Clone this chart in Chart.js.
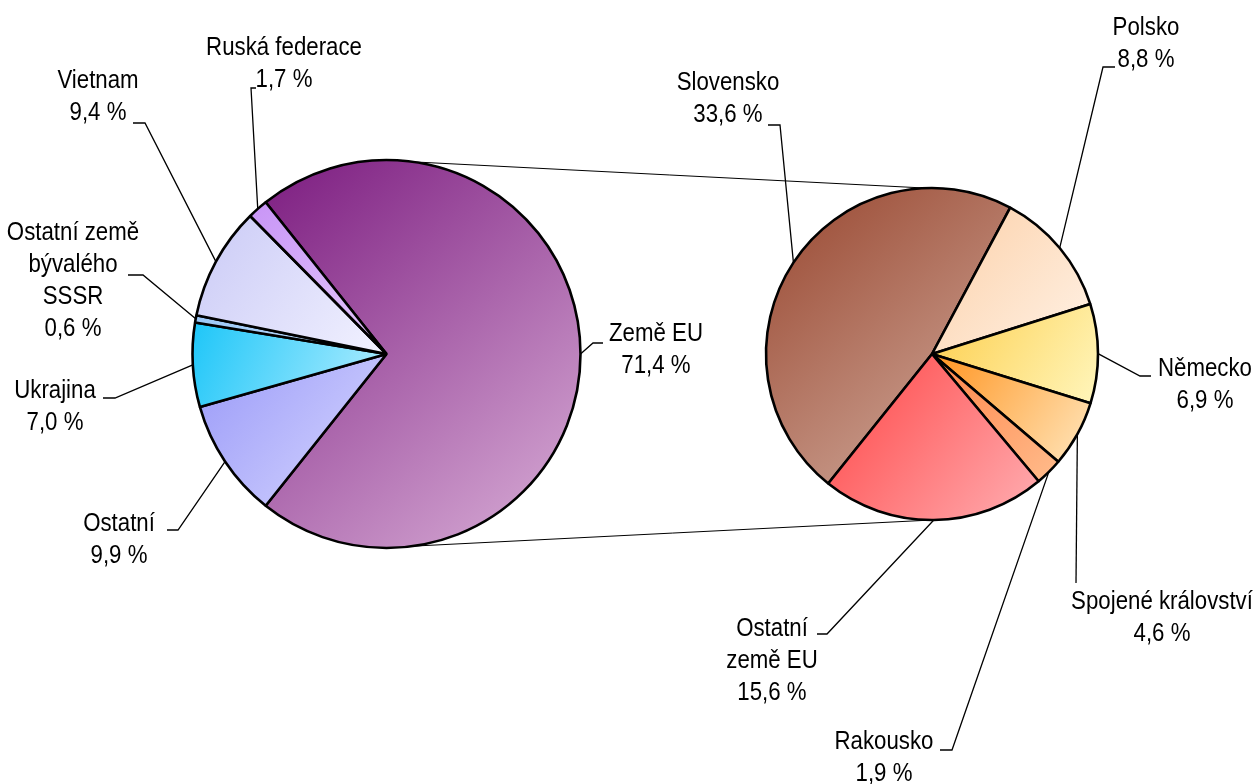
<!DOCTYPE html>
<html>
<head>
<meta charset="utf-8">
<script src="https://cdn.jsdelivr.net/npm/chart.js@4.4.0/dist/chart.umd.min.js"></script>
<style>
html, body { margin: 0; padding: 0; background: #fff; }
#wrap { position: relative; width: 1258px; height: 784px; }
#wrap canvas { position: absolute; left: 0; top: 0; }
</style>
</head>
<body>
<div id="wrap">
	<canvas id="mainPie" width="1258" height="784"></canvas>
	<canvas id="subPie" width="1258" height="784"></canvas>
</div>
<script>
// main pie, clockwise from the split slice
const mainLabels = ["Země EU", "Ostatní", "Ukrajina", "Ostatní země\nbývalého\nSSSR", "Vietnam", "Ruská federace"];
const mainValues = [71.4, 9.9, 7.0, 0.6, 9.4, 1.7];

// secondary pie (breakdown of Země EU), clockwise
const subLabels = ["Slovensko", "Polsko", "Německo", "Spojené království", "Rakousko", "Ostatní\nzemě EU"];
const subValues = [33.6, 8.8, 6.9, 4.6, 1.9, 15.6];

// gradient colours [dark, light]
const mainColors = [
	["#7c1c80", "#dab0d8"],
	["#9a9af8", "#d8d8ff"],
	["#1ec6f8", "#b4eeff"],
	["#9cc8f6", "#c4e0fc"],
	["#cacaf6", "#f2f2ff"],
	["#c894f6", "#e4cafc"],
];
const subColors = [
	["#98462f", "#d4b0a2"],
	["#fcd0a8", "#fff2e6"],
	["#fdce4c", "#fff6bc"],
	["#ff9420", "#ffe6bc"],
	["#ff8448", "#ffbc8c"],
	["#ff4444", "#ffaeb2"],
];

// label placement: text centre x, first line y, leader elbow and end
const mainLabelPos = [
	{ x: 656, y: 334, elbow: [593, 343], end: [603, 343] },
	{ x: 119, y: 524, elbow: [178, 530], end: [167, 530] },
	{ x: 55, y: 391, elbow: [115, 398], end: [103, 398] },
	{ x: 73, y: 233, elbow: [143, 275], end: [128, 275] },
	{ x: 98, y: 81, elbow: [145, 123], end: [133, 123] },
	{ x: 284, y: 48, elbow: [251, 88], end: [256, 88] },
];
const subLabelPos = [
	{ x: 728, y: 83, elbow: [780, 125], end: [768, 125] },
	{ x: 1146, y: 28, elbow: [1103, 67], end: [1115, 67] },
	{ x: 1205, y: 369, elbow: [1140, 376], end: [1151, 376] },
	{ x: 1162, y: 602, elbow: [1076, 583], end: [1076, 583] },
	{ x: 884, y: 742, elbow: [952, 750], end: [940, 750] },
	{ x: 772, y: 629, elbow: [827, 634], end: [817, 634] },
];

const FONT = '25px "Liberation Sans", Arial, sans-serif';
const TEXT_SCALE_X = 0.89;
const LINE_H = 32;

const fmtPct = (v) => v.toFixed(1).replace(".", ",") + " %";

// bounding box of an arc element
const arcBox = (arc) => {
	const { x, y, startAngle, endAngle, outerRadius: r } = arc;
	const xs = [x, x + r * Math.cos(startAngle), x + r * Math.cos(endAngle)];
	const ys = [y, y + r * Math.sin(startAngle), y + r * Math.sin(endAngle)];
	const k0 = Math.ceil(startAngle / (Math.PI / 2));
	for (let k = k0; k * Math.PI / 2 < endAngle; k++) {
		const a = k * Math.PI / 2;
		xs.push(x + r * Math.cos(a));
		ys.push(y + r * Math.sin(a));
	}
	return { x0: Math.min(...xs), y0: Math.min(...ys), x1: Math.max(...xs), y1: Math.max(...ys) };
};

const gradientFill = (colors) => ({
	id: "gradientFill",
	beforeDatasetsDraw(chart) {
		const ctx = chart.ctx;
		chart.getDatasetMeta(0).data.forEach((arc, i) => {
			const b = arcBox(arc);
			const g = ctx.createLinearGradient(b.x0, b.y0, b.x1, b.y1);
			g.addColorStop(0, colors[i][0]);
			g.addColorStop(1, colors[i][1]);
			arc.options = Object.assign({}, arc.options, { backgroundColor: g });
		});
	},
});

const sliceLabels = (names, values, layout) => ({
	id: "sliceLabels",
	afterDatasetsDraw(chart) {
		const ctx = chart.ctx;
		ctx.save();
		chart.getDatasetMeta(0).data.forEach((arc, i) => {
			const pos = layout[i];
			const mid = (arc.startAngle + arc.endAngle) / 2;
			const px = arc.x + arc.outerRadius * Math.cos(mid);
			const py = arc.y + arc.outerRadius * Math.sin(mid);
			ctx.strokeStyle = "#000";
			ctx.lineWidth = 1.3;
			ctx.beginPath();
			ctx.moveTo(px, py);
			ctx.lineTo(pos.elbow[0], pos.elbow[1]);
			ctx.lineTo(pos.end[0], pos.end[1]);
			ctx.stroke();

			const lines = names[i].split("\n").concat([fmtPct(values[i])]);
			ctx.fillStyle = "#000";
			ctx.font = FONT;
			ctx.textAlign = "center";
			ctx.textBaseline = "middle";
			lines.forEach((t, j) => {
				ctx.save();
				ctx.translate(pos.x, pos.y + j * LINE_H);
				ctx.scale(TEXT_SCALE_X, 1);
				ctx.fillText(t, 0, 0);
				ctx.restore();
			});
		});
		ctx.restore();
	},
});

// thin lines joining the split slice to the secondary pie
const connectors = {
	id: "connectors",
	beforeDatasetsDraw(chart) {
		const a = mainChart.getDatasetMeta(0).data[0];
		const b = chart.getDatasetMeta(0).data[0];
		const pt = (arc, deg) => {
			const rad = (deg - 90) * Math.PI / 180;
			return [arc.x + arc.outerRadius * Math.cos(rad), arc.y + arc.outerRadius * Math.sin(rad)];
		};
		const ctx = chart.ctx;
		ctx.save();
		ctx.strokeStyle = "#000";
		ctx.lineWidth = 1;
		[[8, -2], [172, 180]].forEach(([da, db]) => {
			const p = pt(a, da);
			const q = pt(b, db);
			ctx.beginPath();
			ctx.moveTo(p[0], p[1]);
			ctx.lineTo(q[0], q[1]);
			ctx.stroke();
		});
		ctx.restore();
	},
};

const baseOptions = (padding, rotation, radius) => ({
	responsive: false,
	animation: false,
	rotation: rotation,
	radius: radius,
	layout: { padding: padding },
	plugins: { legend: { display: false }, tooltip: { enabled: false } },
	events: [],
});

// split slice centred at 3 o'clock
const mainRotation = 90 - (mainValues[0] / mainValues.reduce((s, v) => s + v, 0)) * 180;

const mainChart = new Chart(document.getElementById("mainPie"), {
	type: "pie",
	data: {
		labels: mainLabels,
		datasets: [{
			data: mainValues,
			backgroundColor: mainColors.map((c) => c[0]),
			borderColor: "#000",
			borderWidth: 2.6,
		}],
	},
	options: baseOptions({ left: 186.5, right: 671.5, top: 154, bottom: 230 }, mainRotation, 194),
	plugins: [gradientFill(mainColors), sliceLabels(mainLabels, mainValues, mainLabelPos)],
});

const subChart = new Chart(document.getElementById("subPie"), {
	type: "pie",
	data: {
		labels: subLabels,
		datasets: [{
			data: subValues,
			backgroundColor: subColors.map((c) => c[0]),
			borderColor: "#000",
			borderWidth: 2.6,
		}],
	},
	options: baseOptions({ left: 762, right: 156, top: 184, bottom: 260 }, -141.3, 166),
	plugins: [connectors, gradientFill(subColors), sliceLabels(subLabels, subValues, subLabelPos)],
});
</script>
</body>
</html>
